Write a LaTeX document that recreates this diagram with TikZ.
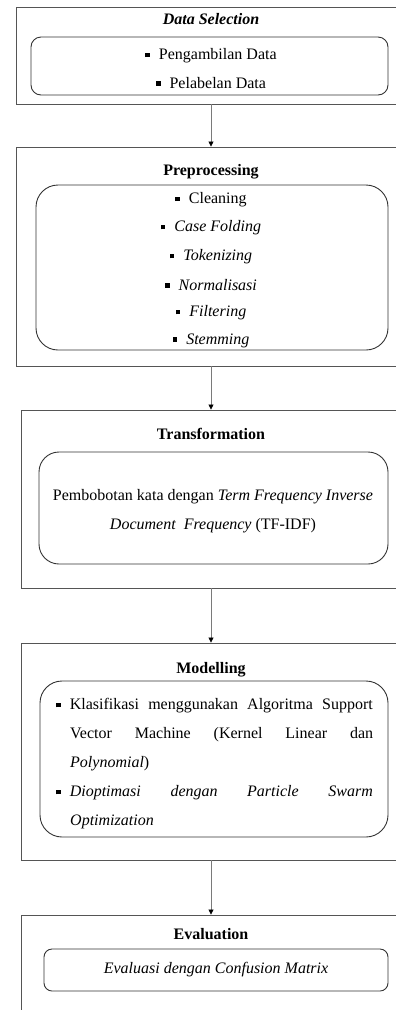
\documentclass[tikz,border=0pt]{standalone}
\usepackage{fontspec}
\setmainfont{Liberation Serif}
\usetikzlibrary{arrows.meta}
\definecolor{outerc}{HTML}{555555}
\definecolor{innerc}{HTML}{333333}
\definecolor{linec}{HTML}{7A7A7A}
\newcommand{\sqb}{\rule[2.6pt]{4.6pt}{4.6pt}\hspace{9pt}}
\tikzset{
  outerbox/.style={draw=outerc, line width=0.9pt, rectangle, inner sep=0pt},
  innerbox/.style={draw=innerc, line width=0.9pt, rectangle, rounded corners=#1, inner sep=0pt},
  title/.style={font=\fontsize{16}{19}\selectfont\bfseries, inner sep=0pt},
  item/.style={font=\fontsize{16}{19}\selectfont, inner sep=0pt},
  conn/.style={draw=linec, line width=0.8pt, -{Triangle[length=5pt,width=5pt,color=black]}}
}
\begin{document}
\begin{tikzpicture}[x=1pt,y=-1pt]
\clip (0,0) rectangle (396,1010);
\useasboundingbox (0,0) rectangle (396,1010);
% Box 1
\node[outerbox, minimum width=390pt, minimum height=97pt] (b1) at (211,55.5) {};
\node[title] (t1) at (211,19) {\itshape Data Selection};
\node[innerbox=10pt, minimum width=357pt, minimum height=58pt] (i1) at (209.5,66) {};
\node[item] (p1a) at (211,56) {\sqb Pengambilan Data};
\node[item] (p1b) at (211,83) {\sqb Pelabelan Data};
% Box 2
\node[outerbox, minimum width=390pt, minimum height=219pt] (b2) at (211,256.5) {};
\node[title] (t2) at (211,172) {Preprocessing};
\node[innerbox=22pt, minimum width=352pt, minimum height=165pt] (i2) at (212,267.5) {};
\node[item] (p2a) at (211,200) {\sqb Cleaning};
\node[item] (p2b) at (211,228) {\sqb \itshape Case Folding};
\node[item] (p2c) at (211,257) {\sqb \itshape Tokenizing};
\node[item] (p2d) at (211,285) {\sqb \itshape Normalisasi};
\node[item] (p2e) at (211,313) {\sqb \itshape Filtering};
\node[item] (p2f) at (211,341) {\sqb \itshape Stemming};
% Box 3
\node[outerbox, minimum width=380pt, minimum height=178pt] (b3) at (211,499) {};
\node[title] (t3) at (211,434) {Transformation};
\node[innerbox=20pt, minimum width=349pt, minimum height=112pt] (i3) at (213.5,508) {};
\node[item] (p3a) at (213,497) {Pembobotan kata dengan \textit{Term Frequency Inverse}};
\node[item] (p3b) at (213,526) {\textit{Document\ \ Frequency} (TF-IDF)};
% Box 4
\node[outerbox, minimum width=380pt, minimum height=217pt] (b4) at (211,751.5) {};
\node[title] (t4) at (211,670) {Modelling};
\node[innerbox=22pt, minimum width=348pt, minimum height=156pt] (i4) at (214,759) {};
\node[item, anchor=west] (p4a) at (56,706) {\sqb\makebox[303pt][s]{Klasifikasi menggunakan Algoritma Support}};
\node[item, anchor=west] (p4b) at (70,735) {\makebox[303pt][s]{Vector Machine (Kernel Linear dan}};
\node[item, anchor=west] (p4c) at (70,764) {\textit{Polynomial})};
\node[item, anchor=west] (p4d) at (56,793) {\sqb\makebox[303pt][s]{\itshape Dioptimasi dengan Particle Swarm}};
\node[item, anchor=west] (p4e) at (70,822) {\textit{Optimization}};
% Box 5
\node[outerbox, minimum width=380pt, minimum height=115pt] (b5) at (211,972.5) {};
\node[title] (t5) at (211,934) {Evaluation};
\node[innerbox=8pt, minimum width=344pt, minimum height=42pt] (i5) at (216,970) {};
\node[item] (p5a) at (216,970) {\itshape Evaluasi dengan Confusion Matrix};
% connectors
\draw[conn] (b1.south) -- (b2.north);
\draw[conn] (b2.south) -- (b3.north);
\draw[conn] (b3.south) -- (b4.north);
\draw[conn] (b4.south) -- (b5.north);
\end{tikzpicture}
\end{document}
